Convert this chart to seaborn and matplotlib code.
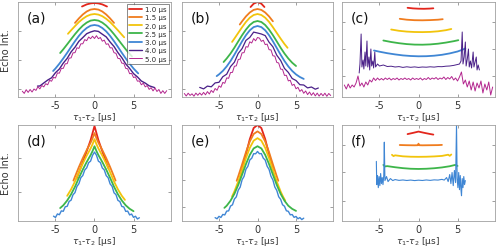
import numpy as np
import pandas as pd
import matplotlib
matplotlib.use("Agg")
import matplotlib.pyplot as plt
import seaborn as sns

delays = ["1.0 μs", "1.5 μs", "2.0 μs", "2.5 μs", "3.0 μs", "4.0 μs", "5.0 μs"]
colors = ["#e3261c", "#f07c1e", "#f2c40c", "#3db54a", "#3f86d4", "#4a2088", "#b3268e"]

# ---- panel (a) ----
a_mag_y = [5.8, 3.6, 7.3, 4.6, 7.5, 5.0, 8.0, 6.6, 10.3, 8.1,
           11.5, 10.1, 13.3, 12.2, 16.6, 15.8, 19.6, 19.0, 24.1, 23.8,
           28.7, 28.6, 33.2, 33.3, 38.9, 39.1, 44.2, 44.3, 49.2, 48.6,
           53.2, 53.2, 57.4, 56.3, 60.0, 58.3, 60.8, 58.5, 61.3, 58.3,
           59.5, 55.8, 56.9, 52.7, 53.2, 49.1, 49.2, 44.3, 43.7, 38.6,
           38.4, 33.8, 33.7, 28.6, 28.2, 23.3, 23.6, 19.5, 20.1, 15.8,
           16.1, 12.2, 13.8, 10.1, 11.5, 7.6, 9.3, 6.1, 9.0, 5.5,
           7.5, 3.6, 6.3, 3.6, 6.3]
a_mag_x = -9.25 + 0.25 * np.arange(len(a_mag_y))
a_x = [
    [-1.6, -1.0, -0.5, 0, 0.5, 1.0, 1.6],
    [-2.5, -2, -1.5, -1, -0.5, 0, 0.5, 1, 1.5, 2, 2.5],
    [-3.4, -3, -2.5, -2, -1.5, -1, -0.5, 0, 0.5, 1, 1.5, 2, 2.5, 3, 3.5, 3.8],
    [-4.4, -4, -3.5, -3, -2.5, -2, -1.5, -1, -0.5, 0, 0.5, 1, 1.5, 2, 2.5, 3, 3.5, 4, 4.5, 4.8],
    [-5.3, -5, -4.5, -4, -3.5, -3, -2.5, -2, -1.5, -1, -0.5, 0, 0.5, 1, 1.5, 2, 2.5, 3, 3.5, 4, 4.5, 5, 5.6],
    [-7.3, -7, -6.5, -6, -5.5, -5, -4.5, -4, -3.5, -3, -2.5, -2, -1.5, -1, -0.5, 0,
     0.5, 1, 1.5, 2, 2.5, 3, 3.5, 4, 4.5, 5, 5.5, 6, 6.5, 7, 7.7],
    a_mag_x,
]
a_y = [
    [90.5, 92.6, 93.6, 94, 93.6, 92.6, 90.5],
    [74.1, 78.6, 82.5, 85.5, 87.4, 88, 87.4, 85.5, 82.5, 78.6, 74.1],
    [63.2, 66.7, 70.9, 74.9, 78.2, 80.8, 82.4, 83, 82.4, 80.8, 78.2, 74.9, 70.9, 66.7, 62.3, 59.7],
    [44.0, 47.7, 52.7, 57.8, 62.8, 67.4, 71.4, 74.4, 76.4, 77, 76.4, 74.4, 71.4, 67.4, 62.8, 57.8,
     52.7, 47.7, 43.1, 40.6],
    [26.0, 28.5, 33.3, 38.6, 44.2, 50.1, 55.8, 61.1, 65.6, 69.0, 71.3, 72, 71.3, 69.0, 65.6, 61.1,
     55.8, 50.1, 44.2, 38.6, 33.3, 28.5, 23.6],
    [10.9, 11.0, 14.0, 16.9, 19.2, 24.3, 28.0, 33.9, 38.6, 45.1, 49.8, 55.7, 59.4, 63.3, 65.0, 66.2,
     65.6, 62.8, 60.1, 55.0, 50.5, 44.4, 39.3, 33.1, 28.6, 23.4, 20.1, 16.0, 13.9, 11.2, 9.4],
    a_mag_y,
]

# ---- panel (b) ----
b_mag_y = [3.5, 1.0, 3.8, 1.6, 3.2, 0.8, 3.9, 1.7, 4.0, 1.9,
           4.6, 2.2, 5.4, 3.0, 6.6, 4.5, 8.5, 6.7, 11.1, 9.7,
           14.6, 13.7, 19.1, 18.7, 24.5, 24.6, 30.8, 31.1, 37.5, 37.9,
           44.2, 44.3, 50.3, 49.9, 55.2, 54.0, 58.4, 56.2, 59.5,
           58.9, 55.6, 56.8, 52.4, 52.9, 47.3, 47.1, 41.2, 40.9, 34.6,
           34.0, 27.9, 27.6, 21.6, 21.7, 16.1, 16.7, 11.6, 12.7, 8.2,
           9.7, 5.6, 7.4, 3.7, 6.0, 2.4, 5.0, 1.7, 4.3, 1.1,
           3.9, 0.9, 3.6, 1.2, 3.8, 0.7, 3.5, 1.5]
b_mag_x = -9.5 + 0.25 * np.arange(len(b_mag_y))
b_x = [
    [-0.9, -0.5, 0, 0.5, 0.9],
    [-2.3, -2, -1.5, -1, -0.5, 0, 0.5, 1, 1.5, 2.0],
    [-3.3, -3, -2.5, -2, -1.5, -1, -0.5, 0, 0.5, 1, 1.5, 2, 2.5, 3, 3.5, 3.9],
    [-4.4, -4, -3.5, -3, -2.5, -2, -1.5, -1, -0.5, 0, 0.5, 1, 1.5, 2, 2.5, 3, 3.5, 4, 4.5, 5],
    [-5.3, -5, -4.5, -4, -3.5, -3, -2.5, -2, -1.5, -1, -0.5, 0, 0.5, 1, 1.5, 2, 2.5, 3, 3.5, 4,
     4.5, 5, 5.5, 6],
    [-7.5, -7, -6.5, -6, -5.5, -5, -4.5, -4, -3.5, -3, -2.5, -2, -1.5, -1, -0.5, 0,
     0.5, 1, 1.5, 2, 2.5, 3, 3.5, 4, 4.5, 5, 5.5, 6, 6.5, 7, 7.5, 7.9],
    b_mag_x,
]
b_y = [
    [90, 93.3, 95, 93.3, 90],
    [72.5, 75.7, 80.6, 84.5, 87.1, 88, 87.1, 84.5, 80.6, 75.7],
    [55.1, 58.4, 64.1, 69.8, 75.1, 79.3, 82.0, 83, 82.0, 79.3, 75.1, 69.8, 64.1, 58.4, 53.0, 49.2],
    [35.0, 38.5, 43.5, 49.3, 55.6, 61.8, 67.4, 72.0, 75.0, 76, 75.0, 72.0, 67.4, 61.8, 55.6, 49.3,
     43.5, 38.5, 34.3, 31.0],
    [20.9, 22.6, 26.1, 30.6, 36.0, 42.3, 49.0, 55.7, 61.8, 66.7, 69.9, 71, 69.9, 66.7, 61.8, 55.7,
     49.0, 42.3, 36.0, 30.6, 26.1, 22.6, 20.0, 18.1],
    [9.6, 8.1, 10.9, 10.2, 14.1, 14.7, 20.3, 22.8, 30.4, 34.8, 43.6, 48.4, 56.6, 59.6, 64.9, 64.0,
     63.0, 61.4, 54.8, 50.2, 41.8, 36.6, 28.6, 24.6, 18.5, 16.5, 12.3, 12.0, 9.1, 10.0, 7.8, 9.0],
    b_mag_y,
]

# ---- panel (c) ----
c_mag_y = [12, 8, 13, 9, 12, 10, 14, 21, 11, 14,
           10, 15, 12, 17, 15, 19, 16.5, 19, 17, 18.5,
           17, 19, 17.5, 19, 17, 18.5, 17.5, 19, 17, 18.5,
           17.5, 19, 17.5, 18.5, 17, 19, 17.5, 18.5, 17.5, 19,
           17, 18.5, 17.5, 19.5, 17.5, 19, 18, 19.5, 17.5, 19,
           18, 20, 17.5, 19.5, 18, 20.5, 17, 19, 16, 20,
           25, 13, 17, 10, 16, 7, 15, 6, 14, 9,
           16, 4, 13, 7, 15, 2, 10]
c_mag_x = -9.5 + 0.25 * np.arange(len(c_mag_y))
c_x = [
    [-1.4, -0.7, 0, 0.7, 1.4, 1.9],
    [-2.4, -1.5, -0.5, 0.5, 1.5, 2.5, 3.1],
    [-3.5, -2.5, -1.5, -0.5, 0.5, 1.5, 2.5, 3.5, 4.2],
    [-4.5, -3.5, -2.5, -1.5, -0.5, 0.5, 1.5, 2.5, 3.5, 4.5, 5.1],
    [-5.7, -5, -4, -3, -2, -1, 0, 1, 2, 3, 4, 5, 5.6, 6.0],
    [-7.6, -7.5, -7.35, -7.25, -7.1, -7.0, -6.85, -6.75, -6.6, -6.5,
     -6.35, -6.25, -6.1, -6.0, -5.85, -5.75, -5.6, -5.5, -5.25, -5.0,
     -4.5, -4.0, -3.5, -3.0, -2.5, -2.0, -1.5, -1.0, -0.5, 0,
     0.5, 1.0, 1.5, 2.0, 2.5, 3.0, 3.5, 4.0, 4.5, 5.0,
     5.25, 5.45, 5.6, 5.7, 5.85, 6.0, 6.1, 6.25, 6.4, 6.5,
     6.65, 6.8, 7.0, 7.1, 7.25, 7.4, 7.5, 7.65, 7.8],
    c_mag_x,
]
c_y = [
    [89.2, 88.6, 88.3, 88.2, 88.4, 88.7],
    [78.2, 77.3, 76.8, 76.7, 76.9, 77.3, 77.8],
    [67.5, 66.2, 65.4, 65.0, 64.9, 65.1, 65.7, 66.8, 68.0],
    [56.5, 55.0, 53.8, 52.9, 52.4, 52.3, 52.6, 53.3, 54.4, 55.8, 56.8],
    [46.5, 45.3, 43.8, 42.6, 41.6, 41.0, 40.7, 40.8, 41.3, 42.2, 43.6, 45.5, 47.2, 48.5],
    [24, 33, 63, 30, 37, 28, 45, 31, 56, 30,
     40, 27, 48, 31, 36, 29, 45, 30, 33, 31,
     32, 30.5, 30.8, 30, 30.4, 29.6, 30.2, 29.7, 30.1, 29.6,
     30.0, 29.8, 30.2, 29.9, 30.4, 30.3, 30.8, 31, 31.6, 32.5,
     33, 36, 65, 33, 40, 55, 31, 38, 48, 30,
     36, 29, 45, 30, 35, 40, 27, 32, 27],
    c_mag_y,
]

# ---- panel (d) ----
d_blue_y = [4.8, 3.5, 7.0, 6.2, 10.0, 9.6, 14.1, 14.5, 19.4, 20.6,
            26.0, 28.1, 34.2, 36.9, 42.9, 45.0, 50.5, 52.6, 57.7, 59.3,
            65.0, 68.2, 65.1, 59.2, 57.9, 52.5, 50.6, 44.9, 42.8, 36.7,
            34.4, 27.9, 26.1, 20.4, 19.3, 14.4, 13.9, 9.5, 9.8, 6.0,
            6.9, 3.6, 4.7, 2.0, 3.2]
d_blue_x = -5.25 + 0.25 * np.arange(len(d_blue_y))
d_x = [
    [-2.3, -2, -1.5, -1, -0.5, -0.25, 0, 0.25, 0.5, 1, 1.5, 1.8],
    [-2.7, -2.5, -2, -1.5, -1, -0.75, -0.5, -0.25, 0, 0.25, 0.5, 0.75, 1, 1.5, 2, 2.5, 2.7],
    [-3.5, -3, -2.5, -2, -1.5, -1, -0.75, -0.5, -0.25, 0, 0.25, 0.5, 0.75, 1, 1.5, 2, 2.5, 3, 3.5, 3.9],
    [-4.4, -4, -3.5, -3, -2.5, -2, -1.5, -1, -0.75, -0.5, -0.25, 0, 0.25, 0.5, 0.75, 1, 1.5, 2,
     2.5, 3, 3.5, 4, 4.5, 5],
    d_blue_x,
]
d_y = [
    [42, 48, 58, 69, 80, 87, 94, 87, 80, 69, 58, 52],
    [40, 43.9, 53.4, 62.2, 70.2, 73.9, 77.5, 81.9, 87, 81.9, 77.5, 73.9, 70.2, 62.2, 53.4, 43.9, 40],
    [24.9, 31.3, 39.1, 48.3, 56.9, 64.7, 68.2, 71.8, 76.0, 81, 76.0, 71.8, 68.2, 64.7, 56.9, 48.3,
     39.1, 31.3, 24.9, 20.9],
    [12.8, 15.5, 20.3, 26.4, 33.9, 42.7, 50.9, 58.4, 61.8, 65.2, 69.2, 74, 69.2, 65.2, 61.8, 58.4,
     50.9, 42.7, 33.9, 26.4, 20.3, 15.5, 12.1, 9.7],
    d_blue_y,
]

# ---- panel (e) ----
e_blue_y = [3.3, 2.2, 4.6, 3.5, 6.5, 6.0, 9.8, 10.0, 14.8, 16.0,
            21.7, 23.9, 30.5, 33.5, 40.8, 44.1, 51.3, 54.1, 60.4, 62.1,
            66.6, 66.5, 68.8, 66.6, 66.7, 62.2, 60.3, 54.2, 51.1, 44.2,
            40.6, 33.6, 30.3, 24.0, 21.5, 16.1, 14.6, 10.1, 9.6, 6.1,
            6.4, 3.6, 4.5, 2.2, 3.4, 1.4, 2.8]
e_blue_x = -5.5 + 0.25 * np.arange(len(e_blue_y))
e_x = [
    [-2.3, -2, -1.5, -1, -0.5, 0, 0.5, 1, 1.5, 2.0],
    [-2.7, -2.5, -2, -1.5, -1, -0.5, 0, 0.5, 1, 1.5, 2, 2.5, 2.7],
    [-3.3, -3, -2.5, -2, -1.5, -1, -0.5, 0, 0.5, 1, 1.5, 2, 2.5, 3, 3.3, 3.6],
    [-4.3, -4, -3.5, -3, -2.5, -2, -1.5, -1, -0.5, 0, 0.5, 1, 1.5, 2, 2.5, 3, 3.5, 4, 4.5, 5],
    e_blue_x,
]
e_y = [
    [42, 51, 66, 81, 92, 95, 92, 81, 66, 51],
    [39.8, 44.2, 56.0, 68.1, 78.7, 86.1, 88.7, 86.1, 78.7, 68.1, 56.0, 44.2, 39.8],
    [24.3, 29.2, 39.1, 50.5, 62.2, 72.4, 79.5, 82, 79.5, 72.4, 62.2, 50.5, 39.1, 29.2, 24.3, 20.2],
    [13.0, 15.1, 20.1, 26.9, 35.7, 45.9, 56.3, 65.4, 71.8, 74, 71.8, 65.4, 56.3, 45.9, 35.7, 26.9,
     20.1, 15.1, 12.0, 10.0],
    e_blue_y,
]

# ---- panel (f) ----
f_x = [
    [-1.4, -0.7, 0, 0.7, 1.4, 1.9],
    [-2.4, -1.5, -0.5, -0.1, 0, 0.1, 0.5, 1.5, 2.5, 3.0],
    [-3.4, -3.2, -3.0, -2, -1, 0, 1, 2, 3, 3.8, 4.0, 4.2],
    [-4.5, -4.3, -4, -3, -2, -1, 0, 1, 2, 3, 4, 4.7, 5.0],
    [-5.4, -5.35, -5.25, -5.15, -5.05, -4.95, -4.85, -4.75, -4.65, -4.55,
     -4.45, -4.38, -4.3, -4.1, -3.9, -3.6, -3.3, -3.0, -2.5, -2.0,
     -1.5, -1.0, -0.5, 0, 0.5, 1.0, 1.5, 2.0, 2.5, 3.0,
     3.3, 3.6, 3.8, 4.0, 4.15, 4.3, 4.45, 4.6, 4.75, 4.87,
     4.95, 5.05, 5.15, 5.25, 5.35, 5.45, 5.51, 5.6, 5.7, 5.8,
     5.9, 6.0],
]
f_y = [
    [86, 87.2, 88.5, 87.3, 86.2, 85.5],
    [75.2, 75, 74.9, 75, 76.5, 75, 74.9, 75, 75.1, 75.3],
    [65.5, 64.2, 65.0, 64.0, 63.6, 63.5, 63.6, 63.9, 64.4, 65.6, 64.5, 65.8],
    [55.5, 54.0, 54.3, 53.2, 52.3, 51.7, 51.5, 51.7, 52.2, 53.0, 54.2, 55.5, 54.5],
    [59, 36, 45, 33, 44, 35, 47, 37, 43, 36,
     45, 78, 40, 44, 39, 42, 40, 41, 40.2, 40.6,
     40.1, 40.5, 40.0, 40.4, 40.1, 40.6, 40.2, 40.7, 40.5, 41.2,
     40.5, 43, 39, 46, 37, 48, 35, 50, 38, 96,
     42, 33, 48, 31, 45, 30, 25, 42, 33, 44,
     36, 40],
]

panel_yticks = {"a": [8, 37, 66], "b": [8, 37, 66], "c": [21, 48, 75],
                "d": [29, 62], "e": [14, 41, 68], "f": [20, 48, 75]}


def draw(ax, xs, ys, widths, tag, legend=False):
    for x, y, name, c, w in zip(xs, ys, delays, colors, widths):
        df = pd.DataFrame({"tau": x, "echo": y})
        sns.lineplot(data=df, x="tau", y="echo", color=c, linewidth=w, ax=ax,
                     estimator=None, sort=False, label=name if legend else None)
    ax.set_xlim(-9.8, 9.8)
    ax.set_ylim(0, 95)
    ax.set_xticks([-5, 0, 5])
    ax.set_yticks(panel_yticks[tag])
    ax.set_yticklabels([])
    ax.tick_params(direction="in", length=2, width=0.5, top=True, right=True,
                   labelsize=7, labelcolor="#333333", color="#777777", pad=2)
    for s in ax.spines.values():
        s.set_color("#a0a0a0")
        s.set_linewidth(0.6)
    ax.set_xlabel(r"$\tau_1$-$\tau_2$ [μs]", fontsize=6.5, color="#333333", labelpad=0.5)
    ax.set_ylabel("")
    ax.text(0.055, 0.84, "(%s)" % tag, transform=ax.transAxes, fontsize=10,
            ha="left", va="center", color="#111111")
    if legend:
        leg = ax.legend(loc="upper right", fontsize=5, frameon=True, fancybox=False,
                        handlelength=1.8, borderpad=0.35, labelspacing=0.32,
                        borderaxespad=0.25, handletextpad=0.5)
        leg.get_frame().set_edgecolor("#333333")
        leg.get_frame().set_linewidth(0.5)
    elif ax.get_legend() is not None:
        ax.get_legend().remove()


sns.set_theme(style="ticks")
plt.rcParams["font.family"] = ["DejaVu Sans"]
plt.rcParams["axes.unicode_minus"] = False

fig = plt.figure(figsize=(5.0, 2.51), dpi=100)
W, H = 500.0, 251.0
cols = [(18, 153), (182, 151), (342, 153)]
rows = [(98, 95), (222, 96)]

top_panels = [("a", a_x, a_y, [1.3] * 5 + [1.0, 0.7]),
              ("b", b_x, b_y, [1.3] * 5 + [0.9, 0.7]),
              ("c", c_x, c_y, [1.3] * 5 + [0.7, 0.7])]
bottom_panels = [("d", d_x, d_y, [1.3] * 4 + [1.0]),
                 ("e", e_x, e_y, [1.3] * 4 + [1.0]),
                 ("f", f_x, f_y, [1.3] * 4 + [0.8])]

for r, panels in enumerate([top_panels, bottom_panels]):
    bottom_px, h_px = rows[r]
    for (left_px, w_px), (tag, xs, ys, widths) in zip(cols, panels):
        ax = fig.add_axes([left_px / W, (H - bottom_px) / H, w_px / W, h_px / H])
        draw(ax, xs, ys, widths, tag, legend=(tag == "a"))
        if tag in ("a", "d"):
            ax.set_ylabel("Echo Int.", fontsize=7, color="#333333", labelpad=3)

fig.savefig("out.png", dpi=100)
